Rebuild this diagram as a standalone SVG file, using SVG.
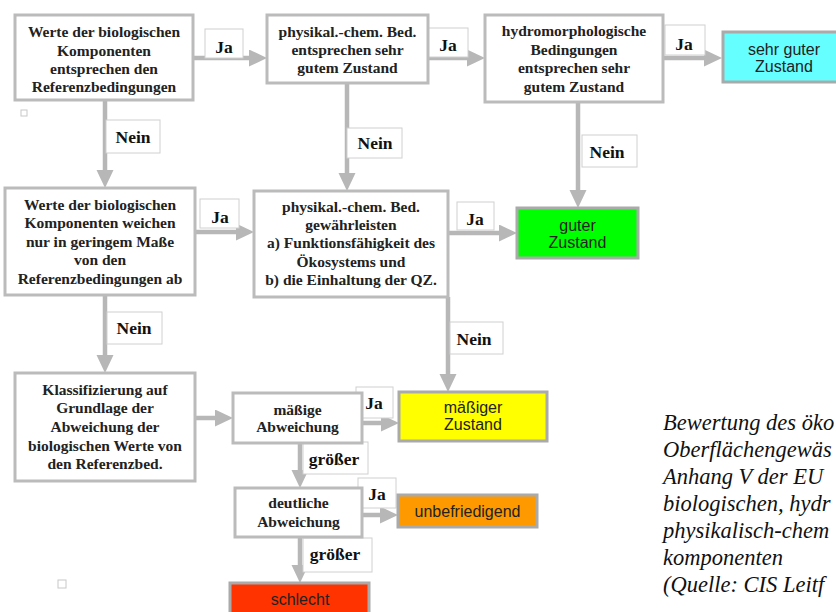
<svg xmlns="http://www.w3.org/2000/svg" width="836" height="612" viewBox="0 0 836 612">
<style>
.box{fill:#fff;stroke:#bbb;stroke-width:3}
.lbl{fill:#fff;stroke:#d0d0d0;stroke-width:1}
.t{font-family:"Liberation Serif","Times New Roman",serif;font-weight:bold;font-size:15.5px;fill:#222;text-anchor:middle}
.l{font-family:"Liberation Serif","Times New Roman",serif;font-weight:bold;font-size:17.5px;fill:#111;text-anchor:middle}
.s{font-family:"Liberation Sans",Arial,sans-serif;font-size:16px;fill:#222;text-anchor:middle}
.c{font-family:"Liberation Serif","Times New Roman",serif;font-style:italic;font-size:22.5px;fill:#111}
.con{stroke:#b7b7b7;stroke-width:4.5;fill:none;marker-end:url(#ah)}
.sq{fill:#fff;stroke:#c8c8c8;stroke-width:1}
</style>
<defs>
<marker id="ah" markerUnits="userSpaceOnUse" markerWidth="18" markerHeight="18" refX="4" refY="8.5" orient="auto">
<path d="M0,0 L18,8.5 L0,17 z" fill="#b7b7b7"/>
</marker>
</defs>
<rect width="836" height="612" fill="#fff"/>
<g id="connectors">
<line class="con" x1="193" y1="58" x2="253" y2="58"/>
<line class="con" x1="428" y1="58" x2="471" y2="58"/>
<line class="con" x1="663" y1="58" x2="708" y2="58"/>
<line class="con" x1="105" y1="100" x2="105" y2="174"/>
<line class="con" x1="347" y1="83" x2="347" y2="177"/>
<line class="con" x1="578" y1="102" x2="578" y2="194"/>
<line class="con" x1="195" y1="232" x2="240" y2="232"/>
<line class="con" x1="448" y1="233" x2="503" y2="233"/>
<line class="con" x1="105" y1="295" x2="105" y2="359"/>
<line class="con" x1="448" y1="297" x2="448" y2="378"/>
<line class="con" x1="195" y1="418" x2="219" y2="418"/>
<line class="con" x1="362" y1="423" x2="385" y2="423"/>
<line class="con" x1="300" y1="443" x2="300" y2="474"/>
<line class="con" x1="362" y1="515" x2="384" y2="515"/>
<line class="con" x1="300" y1="537" x2="300" y2="569"/>
</g>
<g id="labels">
<g id="lbl-ja1"><rect class="lbl" x="205" y="29" width="38" height="29"/><text class="l" x="224" y="53">Ja</text></g>
<g id="lbl-ja2"><rect class="lbl" x="428" y="28" width="40" height="29"/><text class="l" x="448" y="51">Ja</text></g>
<g id="lbl-ja3"><rect class="lbl" x="665" y="25" width="40" height="30"/><text class="l" x="684" y="50">Ja</text></g>
<g id="lbl-nein1"><rect class="lbl" x="106" y="120" width="54" height="33"/><text class="l" x="133" y="143">Nein</text></g>
<g id="lbl-nein2"><rect class="lbl" x="347" y="128" width="55" height="30"/><text class="l" x="375" y="149">Nein</text></g>
<g id="lbl-nein3"><rect class="lbl" x="582" y="135" width="55" height="32"/><text class="l" x="607" y="158">Nein</text></g>
<g id="lbl-ja4"><rect class="lbl" x="200" y="199" width="39" height="29"/><text class="l" x="220" y="223">Ja</text></g>
<g id="lbl-ja5"><rect class="lbl" x="457" y="202" width="37" height="28"/><text class="l" x="475" y="225">Ja</text></g>
<g id="lbl-nein4"><rect class="lbl" x="107" y="312" width="55" height="32"/><text class="l" x="134" y="334">Nein</text></g>
<g id="lbl-nein5"><rect class="lbl" x="450" y="322" width="53" height="32"/><text class="l" x="474" y="345">Nein</text></g>
<g id="lbl-ja6"><rect class="lbl" x="356" y="387" width="37" height="31"/><text class="l" x="374" y="409">Ja</text></g>
<g id="lbl-groesser1"><rect class="lbl" x="303" y="442" width="65" height="32"/><text class="l" x="334" y="465">größer</text></g>
<g id="lbl-ja7"><rect class="lbl" x="358" y="478" width="38" height="30"/><text class="l" x="377" y="500">Ja</text></g>
<g id="lbl-groesser2"><rect class="lbl" x="303" y="538" width="69" height="34"/><text class="l" x="335" y="560">größer</text></g>
</g>
<g id="n1"><rect class="box" x="15" y="15" width="178" height="85"/>
<text class="t" x="104" y="37">Werte der biologischen</text><text class="t" x="104" y="55.5">Komponenten</text><text class="t" x="104" y="74">entsprechen den</text><text class="t" x="104" y="92">Referenzbedingungen</text></g>
<g id="n2"><rect class="box" x="267" y="15" width="161" height="68"/>
<text class="t" x="347.5" y="37">physikal.-chem. Bed.</text><text class="t" x="347.5" y="55">entsprechen sehr</text><text class="t" x="347.5" y="73">gutem Zustand</text></g>
<g id="n3"><rect class="box" x="485" y="15" width="178" height="87"/>
<text class="t" x="574" y="36">hydromorphologische</text><text class="t" x="574" y="55">Bedingungen</text><text class="t" x="574" y="73">entsprechen sehr</text><text class="t" x="574" y="92">gutem Zustand</text></g>
<g id="n-sehrgut"><rect x="723" y="32" width="122" height="50" fill="#66ffff" stroke="#aaa" stroke-width="3"/>
<text class="s" x="784" y="55">sehr guter</text><text class="s" x="784" y="72">Zustand</text></g>
<g id="n4"><rect class="box" x="5" y="188" width="190" height="107"/>
<text class="t" x="100" y="210">Werte der biologischen</text><text class="t" x="100" y="228">Komponenten weichen</text><text class="t" x="100" y="247">nur in geringem Maße</text><text class="t" x="100" y="265">von den</text><text class="t" x="100" y="284">Referenzbedingungen ab</text></g>
<g id="n5"><rect class="box" x="254" y="191" width="194" height="106"/>
<text class="t" x="351" y="212">physikal.-chem. Bed.</text><text class="t" x="351" y="230">gewährleisten</text><text class="t" x="351" y="248">a) Funktionsfähigkeit des</text><text class="t" x="351" y="267">Ökosystems und</text><text class="t" x="351" y="285">b) die Einhaltung der QZ.</text></g>
<g id="n-gut"><rect x="517" y="208" width="121" height="50" fill="#00ff00" stroke="#aaa" stroke-width="3"/>
<text class="s" x="577.5" y="231">guter</text><text class="s" x="577.5" y="248">Zustand</text></g>
<g id="n6"><rect class="box" x="15" y="373" width="180" height="108"/>
<text class="t" x="105" y="395">Klassifizierung auf</text><text class="t" x="105" y="413">Grundlage der</text><text class="t" x="105" y="432">Abweichung der</text><text class="t" x="105" y="451">biologischen Werte von</text><text class="t" x="105" y="469">den Referenzbed.</text></g>
<g id="n-maessigeabw"><rect class="box" x="233" y="393" width="129" height="50"/>
<text class="t" x="297.5" y="415">mäßige</text><text class="t" x="297.5" y="432">Abweichung</text></g>
<g id="n-maessig"><rect x="399" y="392" width="148" height="49" fill="#ffff00" stroke="#aaa" stroke-width="3"/>
<text class="s" x="473" y="413">mäßiger</text><text class="s" x="473" y="430">Zustand</text></g>
<g id="n-deutlicheabw"><rect class="box" x="235" y="488" width="127" height="49"/>
<text class="t" x="298.5" y="508">deutliche</text><text class="t" x="298.5" y="527">Abweichung</text></g>
<g id="n-unbefr"><rect x="398" y="495" width="139" height="32" fill="#ff9900" stroke="#aaa" stroke-width="3"/>
<text class="s" x="467.5" y="517">unbefriedigend</text></g>
<g id="n-schlecht"><rect x="230" y="583" width="139" height="40" fill="#ff3300" stroke="#aaa" stroke-width="3"/>
<text class="s" x="300" y="605">schlecht</text></g>
<rect class="sq" x="21" y="110" width="6" height="6"/>
<rect class="sq" x="58" y="580" width="8" height="8"/>
<g id="caption">
<text class="c" x="663" y="430">Bewertung des öko</text>
<text class="c" x="663" y="457">Oberflächengewäs</text>
<text class="c" x="663" y="484">Anhang V der EU</text>
<text class="c" x="663" y="511">biologischen, hydr</text>
<text class="c" x="663" y="538">physikalisch-chem</text>
<text class="c" x="663" y="565">komponenten</text>
<text class="c" x="663" y="592">(Quelle: CIS Leitf</text>
</g>
</svg>
